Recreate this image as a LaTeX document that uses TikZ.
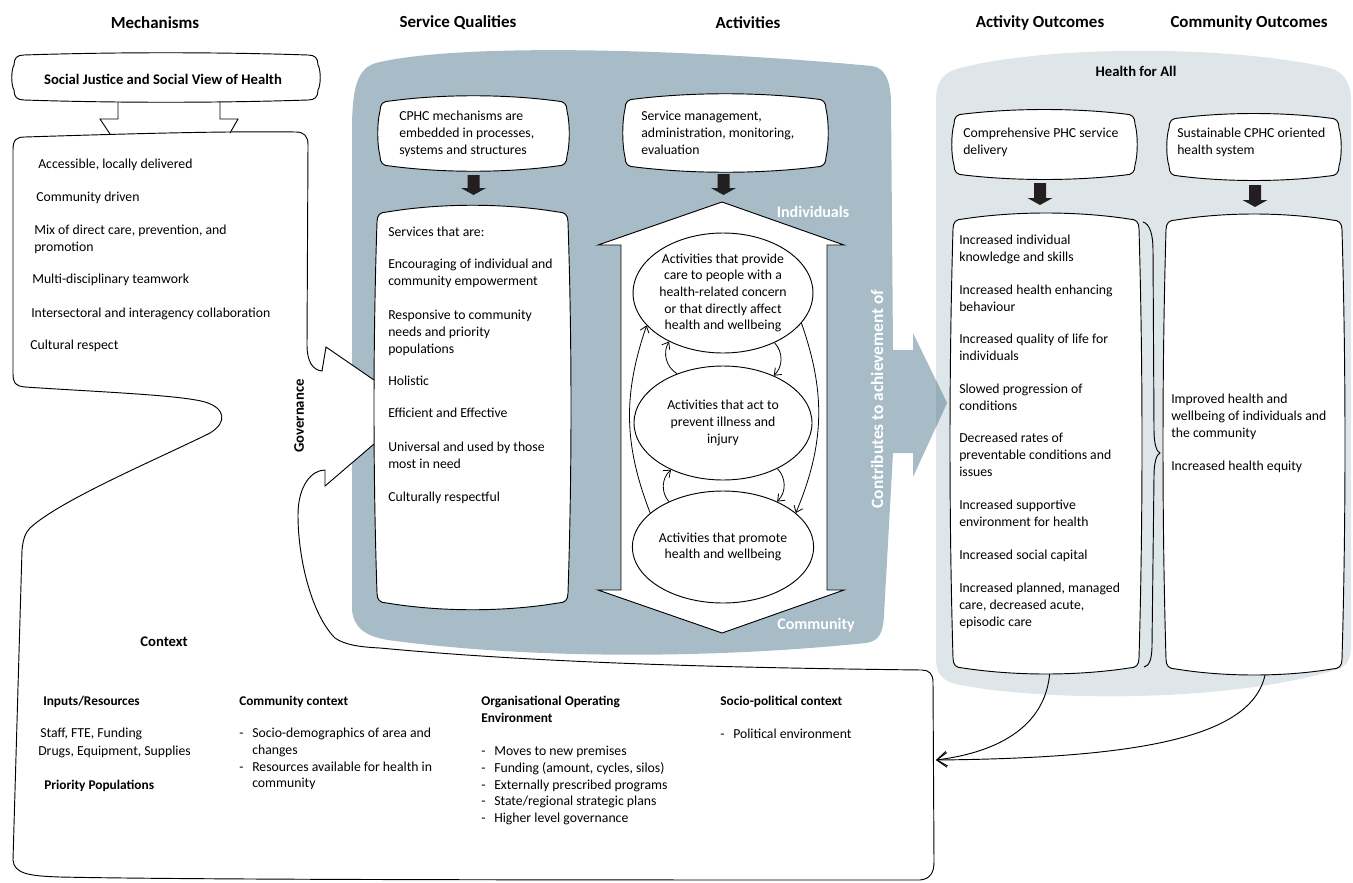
\documentclass[tikz,border=0pt]{standalone}
\usepackage{fontspec}
\setmainfont{Carlito}
\usetikzlibrary{arrows.meta,shapes.geometric,fit,calc}
\definecolor{qblue}{HTML}{A7BCC7}
\definecolor{qlight}{HTML}{DFE6EA}
\definecolor{qdark}{HTML}{97AEBB}
\definecolor{qblk}{HTML}{231F20}
\newcommand\myBody{\fontsize{10.3}{12.5}\selectfont}
\newcommand\myHead{\fontsize{12.7}{15}\selectfont\bfseries}
\newcommand\myLab{\fontsize{11}{13}\selectfont\bfseries}
\newcommand\myCtx{\fontsize{10}{12.5}\selectfont\bfseries}
\newcommand\myWhite{\fontsize{12}{14}\selectfont\bfseries}
\newcommand\myDash{\makebox[9.75pt][l]{-}}
\newcommand\myInd{\hspace*{9.75pt}}
% pillow box: name, x1, y1, x2, y2, horizontal bow, vertical bow
\newcommand{\pillow}[7]{%
 \draw[ln, fill=white] ({#2+10},#3)
   .. controls ({(2*#2+#4)/3},{#3-#6}) and ({(#2+2*#4)/3},{#3-#6}) .. ({#4-10},#3)
   .. controls ({#4-3},#3) and (#4,{#3+3}) .. (#4,{#3+10})
   .. controls ({#4+#7},{(2*#3+#5)/3}) and ({#4+#7},{(#3+2*#5)/3}) .. (#4,{#5-10})
   .. controls (#4,{#5-3}) and ({#4-3},#5) .. ({#4-10},#5)
   .. controls ({(#2+2*#4)/3},{#5+#6}) and ({(2*#2+#4)/3},{#5+#6}) .. ({#2+10},#5)
   .. controls ({#2+3},#5) and (#2,{#5-3}) .. (#2,{#5-10})
   .. controls ({#2-#7},{(#3+2*#5)/3}) and ({#2-#7},{(2*#3+#5)/3}) .. (#2,{#3+10})
   .. controls (#2,{#3+3}) and ({#2+3},#3) .. ({#2+10},#3) -- cycle;
 \node[inner sep=0pt, fit={(#2,#3)(#4,#5)}] (#1) {};
}
% black block arrow down: centre x, top y, tip y
\newcommand{\blockdown}[3]{%
 \fill[qblk] ({#1-6},#2) -- ({#1+6},#2) -- ({#1+6},{#3-7}) -- ({#1+12.5},{#3-7}) -- (#1,#3) -- ({#1-12.5},{#3-7}) -- ({#1-6},{#3-7}) -- cycle;
}
\begin{document}
\begin{tikzpicture}[x=0.75pt, y=-0.75pt,
  ln/.style={draw=black, line width=0.7pt},
  tx/.style={font=\myBody, align=left, anchor=north west, inner sep=0pt, text=black},
  hd/.style={font=\myHead, inner sep=0pt, text=black},
  lab/.style={font=\myLab, inner sep=0pt, text=black},
  ctxl/.style={font=\myCtx, align=left, anchor=north west, inner sep=0pt, text=black},
  wt/.style={font=\myWhite, inner sep=0pt, text=white},
  ell/.style={ellipse, draw=black, line width=0.7pt, fill=white, inner sep=0pt, align=center, font=\myBody, minimum width=133.5pt},
  earr/.style={draw=black, line width=0.6pt, -{Straight Barb[length=4.5pt,width=7pt]}},
  carr/.style={draw=black, line width=0.7pt, -{Straight Barb[length=7.5pt,width=11pt]}}]
\useasboundingbox (0,0) rectangle (1353,882);

% ---------- background regions ----------
\fill[qlight] (936,100) .. controls (936,80) and (944,72) .. (960,68)
  .. controls (1050,45) and (1230,45) .. (1330,68)
  .. controls (1345,72) and (1351,85) .. (1351,100) -- (1351,645)
  .. controls (1351,660) and (1347,667) .. (1335,670)
  .. controls (1230,702) and (1050,702) .. (960,685)
  .. controls (944,682) and (936,675) .. (936,660) -- cycle;
\fill[qblue] (352,610) -- (352,130) .. controls (352,80) and (360,66) .. (380,62)
  .. controls (470,42) and (700,50) .. (872,66)
  .. controls (885,68) and (890,80) .. (891,100) -- (893,350) -- (893,453) -- (884,615)
  .. controls (883,635) and (878,641) .. (866,643)
  .. controls (700,660) and (520,658) .. (388,640)
  .. controls (365,636) and (354,628) .. (352,610) -- cycle;
% contributes arrow
\fill[qblue] (880,350) -- (913,350) -- (913,333) -- (947,403) -- (913,477) -- (913,453) -- (880,453) -- cycle;
\begin{scope}
  \clip (936,320) rectangle (960,490);
  \fill[qdark] (913,333) -- (947,403) -- (913,477) -- cycle;
\end{scope}
\node[wt, font=\fontsize{13}{15}\selectfont\bfseries, rotate=90] (contrib) at (877,399) {Contributes to achievement of};

% governance wedge
\fill[white] (326,347) -- (374,380) -- (374,444) -- (325,486) -- cycle;

% ---------- mechanisms + context outline ----------
\draw[ln] (374,444) -- (325,486) -- (325,470)
 .. controls (312,470) and (298,485) .. (298,515)
 .. controls (298,560) and (312,615) .. (335,638)
 .. controls (345,645) and (360,647) .. (380,648)
 .. controls (550,664) and (750,668) .. (922,670)
 .. controls (929,670) and (933,674) .. (933,682)
 -- (934,862)
 .. controls (934,873) and (930,879) .. (920,880)
 .. controls (600,880) and (200,880) .. (60,877)
 .. controls (30,876) and (14,874) .. (13,860)
 -- (22,550)
 .. controls (23,540) and (25,533) .. (30,528)
 .. controls (60,500) and (160,458) .. (210,433)
 .. controls (228,422) and (225,408) .. (205,402)
 .. controls (180,395) and (100,392) .. (25,387)
 .. controls (15,386) and (13,383) .. (13,373)
 -- (13,150)
 .. controls (13,140) and (16,137) .. (25,137)
 .. controls (120,134) and (220,131) .. (296,132)
 .. controls (304,132) and (308,136) .. (308,145)
 -- (307,345)
 .. controls (307,362) and (313,370) .. (322,371)
 -- (326,347) -- (374,380);

% social justice box and tabs
\draw[ln] (118,98) -- (118,119) -- (100,119) -- (110,134);
\draw[ln] (220,98) -- (220,119) -- (238,119) -- (230,133);
\pillow{sj}{14}{55}{318}{100}{3}{3}
\node[lab] (sjT) at (163,79) {Social Justice and Social View of Health};

% ---------- service qualities ----------
\pillow{cphc}{380}{101}{567}{166}{7}{3}
\pillow{sm}{625}{99}{826}{167}{7}{3}
\pillow{svc}{377}{212}{568}{603}{9}{4}
\blockdown{473.5}{175}{195}
\blockdown{723.5}{174}{195}

% ---------- activities ----------
\draw[ln, fill=white] (722,202) -- (844,245) -- (827,245) -- (827,590) -- (844,590) -- (722,633)
  -- (598,590) -- (621,590) -- (621,245) -- (598,245) -- cycle;
\node[ell, minimum height=90pt] (e1) at (723,293) {Activities that provide\\care to people with a\\health-related concern\\or that directly affect\\health and wellbeing};
\node[ell, minimum height=85.5pt] (e2) at (723,423) {Activities that act to\\prevent illness and\\injury};
\node[ell, minimum height=84pt] (e3) at (723,547) {Activities that promote\\health and wellbeing};
\draw[earr] (e2.133) to[bend left=45] (e1.222);
\draw[earr] (e1.-44) to[bend left=45] (e2.43);
\draw[earr] (e3.140) to[bend left=45] (e2.222);
\draw[earr] (e2.-40) to[bend left=45] (e3.40);
\draw[earr] (e3.155) to[bend left=20] (e1.203);
\draw[earr] (e1.-21) to[bend left=21] (e3.25);
\node[wt] (indiv) at (813,212) {Individuals};
\node[wt] (commu) at (816,625) {Community};

% ---------- outcomes ----------
\coordinate (ctxin) at (936,760);
\node[inner sep=0pt, fit={(953,219)(1139,668)}] (aofit) {};
\node[inner sep=0pt, fit={(1166,220)(1342,669)}] (cofit) {};
\draw[carr] ([xshift=3pt]aofit.south) .. controls (1048,725) and (1000,752) .. (ctxin);
\draw[carr] ([xshift=9pt]cofit.south) .. controls (1258,735) and (1150,758) .. (ctxin);
\pillow{cpd}{954}{114}{1135}{175}{6}{3}
\pillow{scs}{1169}{118}{1339}{176}{6}{3}
\pillow{ao}{953}{219}{1139}{668}{8}{4}
\pillow{co}{1166}{220}{1342}{669}{8}{4}
\blockdown{1040}{183}{205}
\blockdown{1255}{185}{207}
\draw[ln] (1143,222) .. controls (1150,224) and (1153,235) .. (1153,250) -- (1154,430)
  .. controls (1154,445) and (1157,452) .. (1160,453)
  .. controls (1157,454) and (1154,461) .. (1154,476) -- (1152,645)
  .. controls (1152,660) and (1149,666) .. (1144,667);
\node[lab] (hfa) at (1136,71) {Health for All};

% ---------- headers ----------
\node[hd] (h1) at (155,23) {Mechanisms};
\node[hd] (h2) at (458,23) {Service Qualities};
\node[hd] (h3) at (748,23) {Activities};
\node[hd] (h4) at (1040,23) {Activity Outcomes};
\node[hd] (h5) at (1249,23) {Community Outcomes};

% ---------- texts ----------
\node[tx] (m1) at (38,159) {Accessible, locally delivered};
\node[tx] (m2) at (36,192) {Community driven};
\node[tx] (m3) at (34,225) {Mix of direct care, prevention, and\\promotion};
\node[tx] (m4) at (32,274) {Multi-disciplinary teamwork};
\node[tx] (m5) at (31,308) {Intersectoral and interagency collaboration};
\node[tx] (m6) at (30,340) {Cultural respect};
\node[lab, rotate=90] (gov) at (299,416) {Governance};

\node[tx] (cphcT) at (399,111) {CPHC mechanisms are\\embedded in processes,\\systems and structures};
\node[tx] (smT) at (641,111) {Service management,\\administration, monitoring,\\evaluation};
\node[tx] (s1) at (388,227) {Services that are:};
\node[tx] (s2) at (388,259) {Encouraging of individual and\\community empowerment};
\node[tx] (s3) at (388,310) {Responsive to community\\needs and priority\\populations};
\node[tx] (s4) at (388,376) {Holistic};
\node[tx] (s5) at (388,408) {Efficient and Effective};
\node[tx] (s6) at (388,442) {Universal and used by those\\most in need};
\node[tx] (s7) at (388,492) {Culturally respectful};

\node[tx] (cpdT) at (963,128) {Comprehensive PHC service\\delivery};
\node[tx] (scsT) at (1177,128) {Sustainable CPHC oriented\\health system};
\node[tx] (a1) at (959,235) {Increased individual\\knowledge and skills};
\node[tx] (a2) at (959,285) {Increased health enhancing\\behaviour};
\node[tx] (a3) at (959,334) {Increased quality of life for\\individuals};
\node[tx] (a4) at (959,384) {Slowed progression of\\conditions};
\node[tx] (a5) at (959,433) {Decreased rates of\\preventable conditions and\\issues};
\node[tx] (a6) at (959,500) {Increased supportive\\environment for health};
\node[tx] (a7) at (959,550) {Increased social capital};
\node[tx] (a8) at (959,583) {Increased planned, managed\\care, decreased acute,\\episodic care};
\node[tx] (c1) at (1171,394) {Improved health and\\wellbeing of individuals and\\the community};
\node[tx] (c2) at (1171,461) {Increased health equity};

\node[lab] (ctxT) at (164,642) {Context};
\node[ctxl] (inT) at (43,696) {Inputs/Resources};
\node[tx] (in1) at (40,728) {Staff, FTE, Funding};
\node[tx] (in2) at (38,746) {Drugs, Equipment, Supplies};
\node[ctxl] (ppT) at (44,780) {Priority Populations};
\node[ctxl] (ccT) at (239,696) {Community context};
\node[tx] (ccL) at (239,728) {\myDash Socio-demographics of area and\\\myInd changes\\\myDash Resources available for health in\\\myInd community};
\node[ctxl] (ooT) at (481,696) {Organisational Operating\\Environment};
\node[tx] (ooL) at (481,746) {\myDash Moves to new premises\\\myDash Funding (amount, cycles, silos)\\\myDash Externally prescribed programs\\\myDash State/regional strategic plans\\\myDash Higher level governance};
\node[ctxl] (spT) at (720,696) {Socio-political context};
\node[tx] (spL) at (720,729) {\myDash Political environment};
\end{tikzpicture}
\end{document}
